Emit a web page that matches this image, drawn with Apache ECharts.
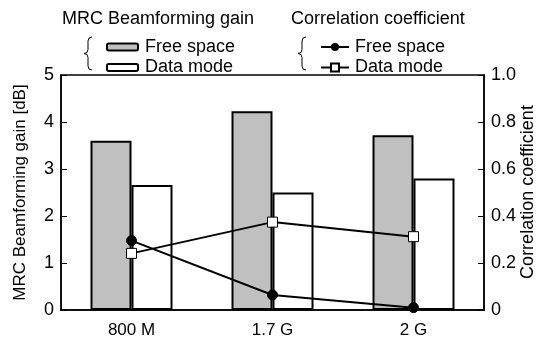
<!DOCTYPE html>
<html>
<head>
<meta charset="utf-8">
<script src="https://cdn.jsdelivr.net/npm/echarts@6/dist/echarts.min.js"></script>
<style>
  html, body { margin: 0; padding: 0; background: #fff; }
  #chart { width: 538px; height: 340px; }
</style>
</head>
<body>
<div id="chart"></div>
<script>
const categories = ['800 M', '1.7 G', '2 G']
const gainFree = [3.6, 4.23, 3.72]
const gainData = [2.66, 2.5, 2.8]
const corrFree = [0.295, 0.064, 0.01]
const corrData = [0.241, 0.374, 0.312]
const legendLabels = { gFree: 'Free space', gData: 'Data mode', cFree: 'Free space', cData: 'Data mode' }

const font = 'Liberation Sans, Arial, sans-serif'
const txt = { color: '#000', fontFamily: font, fontSize: 18 }

const chart = echarts.init(document.getElementById('chart'))

// curly brace made of curves and lines
function brace(x, y1, y2) {
  const m = (y1 + y2) / 2
  const st = { stroke: '#000', lineWidth: 1, fill: null }
  const c = (a, b, cx, cy, d, e) => ({ type: 'bezierCurve', shape: { x1: a, y1: b, cpx1: cx, cpy1: cy, x2: d, y2: e }, style: st })
  const l = (a, b, d, e) => ({ type: 'line', shape: { x1: a, y1: b, x2: d, y2: e }, style: st })
  return [
    c(x + 5, y1, x + 1, y1, x + 1, y1 + 4),
    l(x + 1, y1 + 4, x + 1, m - 4),
    c(x + 1, m - 4, x + 1, m, x - 3, m),
    c(x - 3, m, x + 1, m, x + 1, m + 4),
    l(x + 1, m + 4, x + 1, y2 - 4),
    c(x + 1, y2 - 4, x + 1, y2, x + 5, y2),
  ]
}

chart.setOption({
  animation: false,
  textStyle: { fontFamily: font },
  grid: {
    left: 61, right: 54, top: 75, bottom: 30, outerBoundsMode: 'none',
    show: true, borderColor: '#000', borderWidth: 1.5,
  },
  legend: [
    {
      orient: 'vertical', left: 101, top: 33, itemWidth: 31, itemHeight: 7, itemGap: 2.5,
      data: ['gFree', 'gData'],
      formatter: (n) => legendLabels[n],
      textStyle: { ...txt, padding: [0, 0, 0, 2] },
      selectedMode: false,
    },
    {
      orient: 'vertical', left: 315, top: 33, itemWidth: 28, itemHeight: 10, itemGap: 2.5,
      data: ['cFree', 'cData'],
      formatter: (n) => legendLabels[n],
      textStyle: { ...txt, padding: [0, 0, 0, 1] },
      selectedMode: false,
    },
  ],
  graphic: [
    { type: 'text', left: 62, top: 10, style: { text: 'MRC Beamforming gain', fill: '#000', font: `18px ${font}` } },
    { type: 'text', left: 291, top: 10, style: { text: 'Correlation coefficient', fill: '#000', font: `18px ${font}` } },
    {
      type: 'text', x: 528, y: 192, rotation: Math.PI / 2,
      style: { text: 'Correlation coefficient', fill: '#000', font: `18px ${font}`, align: 'center', verticalAlign: 'middle' },
    },
    ...brace(87, 37, 70),
    ...brace(301, 37, 70),
  ],
  xAxis: {
    type: 'category',
    data: categories,
    axisLine: { lineStyle: { color: '#000', width: 1.5 } },
    axisTick: { inside: true, length: 5, lineStyle: { color: '#000' } },
    axisLabel: { ...txt, fontSize: 17, margin: 12 },
  },
  yAxis: [
    {
      type: 'value', min: 0, max: 5, interval: 1,
      name: 'MRC Beamforming gain [dB]', nameLocation: 'middle', nameGap: 32, nameRotate: 90,
      nameTextStyle: { ...txt, fontSize: 17 },
      axisLine: { show: true, lineStyle: { color: '#000', width: 1.5 } },
      axisTick: { show: true, inside: true, length: 6, lineStyle: { color: '#000' } },
      axisLabel: { ...txt, margin: 7 },
      splitLine: { show: false },
    },
    {
      type: 'value', min: 0, max: 1, interval: 0.2,
      axisLine: { show: true, lineStyle: { color: '#000', width: 1.5 } },
      axisTick: { show: true, inside: true, length: 6, lineStyle: { color: '#000' } },
      axisLabel: { ...txt, margin: 7, formatter: (v) => (v === 0 ? '0' : v.toFixed(1)) },
      splitLine: { show: false },
    },
  ],
  series: [
    {
      name: 'gFree', type: 'bar', data: gainFree, barWidth: 41, barGap: '0%',
      itemStyle: { color: '#c0c0c0', borderColor: '#000', borderWidth: 2 },
    },
    {
      name: 'gData', type: 'bar', data: gainData, barWidth: 41, barGap: '0%',
      itemStyle: { color: '#fff', borderColor: '#000', borderWidth: 2 },
    },
    {
      name: 'cFree', type: 'line', yAxisIndex: 1, data: corrFree,
      symbol: 'circle', symbolSize: 10, z: 5,
      lineStyle: { color: '#000', width: 2 },
      itemStyle: { color: '#000', borderColor: '#000' },
    },
    {
      name: 'cData', type: 'line', yAxisIndex: 1, data: corrData,
      symbol: 'rect', symbolSize: 10, z: 5,
      lineStyle: { color: '#000', width: 2 },
      itemStyle: { color: '#fff', borderColor: '#000', borderWidth: 1 },
    },
  ],
})
</script>
</body>
</html>
